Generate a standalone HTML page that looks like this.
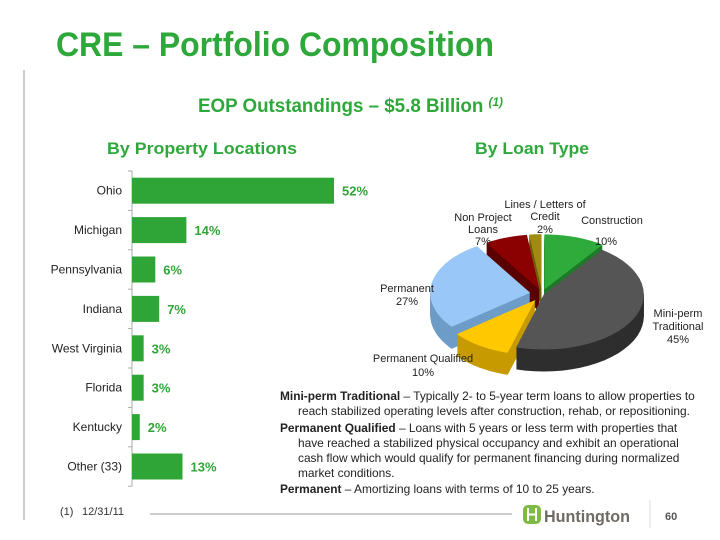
<!DOCTYPE html>
<html><head><meta charset="utf-8"><style>
body{margin:0;background:#fff;}
svg{display:block;font-family:"Liberation Sans",Arial,sans-serif;}
</style></head><body>
<svg id="s" width="720" height="540" viewBox="0 0 720 540" xmlns="http://www.w3.org/2000/svg">
<line x1="24" y1="70" x2="24" y2="520" stroke="#bbb" stroke-width="1.5"/>
<text x="56" y="56" font-size="34" font-weight="bold" fill="#2ea83a" textLength="438" lengthAdjust="spacingAndGlyphs">CRE – Portfolio Composition</text>
<text x="198" y="112" font-size="19" font-weight="bold" fill="#2ea83a" textLength="305" lengthAdjust="spacingAndGlyphs">EOP Outstandings – $5.8 Billion <tspan font-size="12" font-style="italic" dy="-6">(1)</tspan></text>
<text x="107" y="154" font-size="17" font-weight="bold" fill="#2ea83a" textLength="190" lengthAdjust="spacingAndGlyphs">By Property Locations</text>
<text x="475" y="154" font-size="17" font-weight="bold" fill="#2ea83a" textLength="114" lengthAdjust="spacingAndGlyphs">By Loan Type</text>
<g id="bars"></g>
<g id="pie"></g>
<g font-size="11.9" fill="#222">
<text x="280" y="400"><tspan font-weight="bold">Mini-perm Traditional</tspan> – Typically 2- to 5-year term loans to allow properties to</text>
<text x="298" y="415">reach stabilized operating levels after construction, rehab, or repositioning.</text>
<text x="280" y="432"><tspan font-weight="bold">Permanent Qualified</tspan> – Loans with 5 years or less term with properties that</text>
<text x="298" y="447">have reached a stabilized physical occupancy and exhibit an operational</text>
<text x="298" y="462">cash flow which would qualify for permanent financing during normalized</text>
<text x="298" y="477">market conditions.</text>
<text x="280" y="493"><tspan font-weight="bold">Permanent</tspan> – Amortizing loans with terms of 10 to 25 years.</text>
</g>
<text x="60" y="515" font-size="11" fill="#333">(1)</text>
<text x="82" y="515" font-size="11" fill="#333">12/31/11</text>
<line x1="150" y1="514" x2="512" y2="514" stroke="#999" stroke-width="1"/>
<g>
<rect x="523" y="505" width="18" height="19" rx="5" fill="#7dbb42"/>
<path d="M528 508v13M536 508v13M528 514.5h8" stroke="#fff" stroke-width="2"/>
<text x="544" y="522" font-size="17" font-weight="bold" fill="#6f6a64" textLength="86" lengthAdjust="spacingAndGlyphs">Huntington</text>
</g>
<line x1="650" y1="500" x2="650" y2="528" stroke="#ddd"/>
<text x="665" y="520" font-size="11" font-weight="bold" fill="#555">60</text>
</svg>
<script>
const categories=["Ohio","Michigan","Pennsylvania","Indiana","West Virginia","Florida","Kentucky","Other (33)"];
const values=[52,14,6,7,3,3,2,13];
const labels=["52%","14%","6%","7%","3%","3%","2%","13%"];
const pieLabels=["Construction","Mini-perm Traditional","Permanent Qualified","Permanent","Non Project Loans","Lines / Letters of Credit"];
const pieValues=[10,45,10,27,7,2];
const NS="http://www.w3.org/2000/svg";
function mk(t,a,p){const e=document.createElementNS(NS,t);for(const k in a)e.setAttribute(k,a[k]);p.appendChild(e);return e;}
const bg=document.getElementById('bars');
const x0=132,top0=171,slot=39.4,bh=26;
const xs=v=>x0+v*3.885;
mk('line',{x1:x0,y1:top0,x2:x0,y2:top0+slot*categories.length,stroke:'#aaa'},bg);
for(let i=0;i<=categories.length;i++)mk('line',{x1:x0-4,y1:top0+i*slot,x2:x0,y2:top0+i*slot,stroke:'#aaa'},bg);
categories.forEach((c,i)=>{
 const yc=top0+slot*(i+0.5);
 const r=mk('rect',{x:x0,y:yc-bh/2,width:xs(values[i])-x0,height:bh,fill:'#30a537'},bg);
 
 
 const t=mk('text',{x:x0-10,y:yc+4,'text-anchor':'end','font-size':12,fill:'#222'},bg);t.textContent=c;
 
 
 const v=mk('text',{x:xs(values[i])+8,y:yc+5,'font-size':13,'font-weight':'bold',fill:'#30a537'},bg);v.textContent=labels[i];
 
 
});
const pg=document.getElementById('pie');
const cx=542,cy=294,rx=100,ry=55,depth=22;
const tops=['#2eab3a','#555555','#ffc800','#99c8f8','#8b0000','#a08a10'];
const sides=['#1d7a26','#2e2e2e','#c79a00','#6e9cc8','#5a0000','#6e5e08'];
const explode=[8,2,12,12,8,8];
const tot=pieValues.reduce((a,b)=>a+b,0);
let acc=0;const sl=[];
pieValues.forEach((v,i)=>{const a0=acc/tot*2*Math.PI;acc+=v;const a1=acc/tot*2*Math.PI;sl.push([a0,a1]);});
function path(a0,a1,ox,oy){
 const P=a=>[cx+ox+rx*Math.sin(a),cy+oy-ry*Math.cos(a)];
 let d=`M${cx+ox},${cy+oy}`;const n=30;
 for(let k=0;k<=n;k++){const p=P(a0+(a1-a0)*k/n);d+=`L${p[0].toFixed(1)},${p[1].toFixed(1)}`;}
 return d+'Z';
}
const off=sl.map(([a0,a1],i)=>{const m=(a0+a1)/2;return [explode[i]*Math.sin(m),-explode[i]*Math.cos(m)*0.6];});
for(let d=depth;d>0;d-=1){sl.forEach(([a0,a1],i)=>{mk('path',{d:path(a0,a1,off[i][0],off[i][1]+d),fill:sides[i]},pg);});}
sl.forEach(([a0,a1],i)=>{
 const p=mk('path',{d:path(a0,a1,off[i][0],off[i][1]),fill:tops[i]},pg);
 
 
});
const lab=[[[612,224,"Construction"],[606,245,"10%"]],[[678,317,"Mini-perm"],[678,330,"Traditional"],[678,343,"45%"]],[[423,362,"Permanent Qualified"],[423,376,"10%"]],[[407,292,"Permanent"],[407,305,"27%"]],[[483,221,"Non Project"],[483,233,"Loans"],[483,245,"7%"]],[[545,208,"Lines / Letters of"],[545,220,"Credit"],[545,233,"2%"]]];
lab.forEach((ls,i)=>{const g=mk('g',{},pg);
 
 
 ls.forEach(([x,y,t])=>{const e=mk('text',{x:x,y:y,'text-anchor':'middle','font-size':11,fill:'#222'},g);e.textContent=t;});});
</script>
</body></html>
